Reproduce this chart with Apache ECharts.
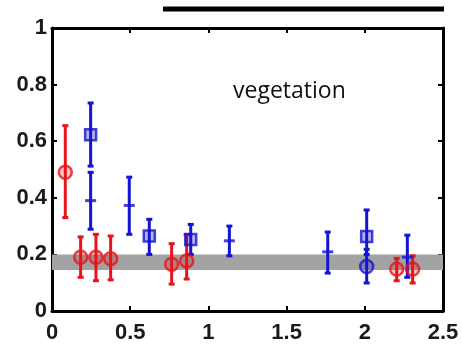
<!DOCTYPE html>
<html>
<head>
<meta charset="utf-8">
<script src="https://cdn.jsdelivr.net/npm/echarts@6/dist/echarts.min.js"></script>
<style>
  html, body { margin: 0; padding: 0; background: #fff; }
  #chart { width: 462px; height: 344px; }
</style>
</head>
<body>
<div id="chart"></div>
<script>
// values
const redX = [0.085, 0.183, 0.281, 0.375, 0.765, 0.861, 2.204, 2.306];
const redY = [0.49, 0.19, 0.19, 0.185, 0.165, 0.177, 0.148, 0.148];
const redLo = [0.33, 0.119, 0.107, 0.11, 0.095, 0.113, 0.107, 0.099];
const redHi = [0.655, 0.262, 0.271, 0.265, 0.238, 0.27, 0.186, 0.195];

const sqX = [0.247, 0.622, 0.887, 2.012];
const sqY = [0.623, 0.265, 0.253, 0.263];
const sqLo = [0.512, 0.2, 0.2, 0.2];
const sqHi = [0.735, 0.324, 0.306, 0.357];

const plusX = [0.247, 0.494, 1.134, 1.763, 2.272];
const plusY = [0.39, 0.373, 0.248, 0.209, 0.19];
const plusLo = [0.289, 0.271, 0.195, 0.134, 0.119];
const plusHi = [0.49, 0.473, 0.30, 0.279, 0.268];

const bcX = [2.012];
const bcY = [0.157];
const bcLo = [0.099];
const bcHi = [0.218];

const band = [0.145, 0.2];
const xTicks = [0, 0.5, 1, 1.5, 2, 2.5];
const yTicks = [0, 0.2, 0.4, 0.6, 0.8, 1];

const RED = '#e8141a';
const BLUE = '#1414d2';

const pts = (xs, ys) => xs.map((x, i) => [x, ys[i]]);
const bars = (xs, lo, hi) => xs.map((x, i) => [x, lo[i], hi[i]]);

function errorBars(name, data, color) {
  return {
    name: name,
    type: 'custom',
    data: data,
    z: 3,
    renderItem: (params, api) => {
      const top = api.coord([api.value(0), api.value(2)]);
      const bot = api.coord([api.value(0), api.value(1)]);
      const w = 3;
      const style = { stroke: color, lineWidth: 3 };
      return {
        type: 'group',
        children: [
          { type: 'line', shape: { x1: top[0], y1: top[1], x2: bot[0], y2: bot[1] }, style: style },
          { type: 'line', shape: { x1: top[0] - w, y1: top[1], x2: top[0] + w, y2: top[1] }, style: style },
          { type: 'line', shape: { x1: bot[0] - w, y1: bot[1], x2: bot[0] + w, y2: bot[1] }, style: style }
        ]
      };
    }
  };
}

const chart = echarts.init(document.getElementById('chart'));

const axisLine = { show: true, onZero: false, lineStyle: { color: '#000', width: 3 } };
const axisTick = { show: true, inside: true, length: 5, lineStyle: { color: '#000', width: 2 } };
const labelStyle = { color: '#1a1a1a', fontSize: 22, fontWeight: 'bold', fontFamily: 'Liberation Sans' };

chart.setOption({
  animation: false,
  grid: { left: 52, right: 19, top: 28, bottom: 32 },
  xAxis: [
    {
      type: 'value', min: 0, max: 2.5, interval: 0.5,
      axisLine: axisLine, axisTick: axisTick, splitLine: { show: false },
      axisLabel: Object.assign({ margin: 11, formatter: v => xTicks.includes(v) ? String(v) : '' }, labelStyle)
    },
    {
      type: 'value', position: 'top', min: 0, max: 2.5, interval: 0.5,
      axisLine: axisLine, axisTick: axisTick, splitLine: { show: false }, axisLabel: { show: false }
    }
  ],
  yAxis: [
    {
      type: 'value', min: 0, max: 1, interval: 0.2,
      axisLine: axisLine, axisTick: axisTick, splitLine: { show: false },
      axisLabel: Object.assign({ margin: 5, formatter: v => yTicks.some(t => Math.abs(t - v) < 1e-9) ? String(+v.toFixed(1)) : '' }, labelStyle)
    },
    {
      type: 'value', position: 'right', min: 0, max: 1, interval: 0.2,
      axisLine: axisLine, axisTick: axisTick, splitLine: { show: false }, axisLabel: { show: false }
    }
  ],
  graphic: [
    { type: 'line', shape: { x1: 163, y1: 9, x2: 444, y2: 9 }, style: { stroke: '#000', lineWidth: 5 } },
    {
      type: 'text', left: 233, top: 80,
      style: { text: 'vegetation', fontSize: 23, fontFamily: 'Open Sans', fill: '#111' }
    }
  ],
  series: [
    {
      name: 'band', type: 'line', data: [], silent: true,
      markArea: {
        silent: true,
        itemStyle: { color: '#a3a3a3' },
        data: [[{ yAxis: band[0] }, { yAxis: band[1] }]]
      }
    },
    errorBars('red err', bars(redX, redLo, redHi), RED),
    errorBars('square err', bars(sqX, sqLo, sqHi), BLUE),
    errorBars('plus err', bars(plusX, plusLo, plusHi), BLUE),
    errorBars('blue circle err', bars(bcX, bcLo, bcHi), BLUE),
    {
      name: 'red', type: 'scatter', data: pts(redX, redY), z: 4,
      symbol: 'circle', symbolSize: 13,
      itemStyle: { color: 'rgba(232,20,26,0.3)', borderColor: RED, borderWidth: 2.5 }
    },
    {
      name: 'square', type: 'scatter', data: pts(sqX, sqY), z: 4,
      symbol: 'rect', symbolSize: 11,
      itemStyle: { color: 'rgba(20,20,210,0.4)', borderColor: BLUE, borderWidth: 2.5 }
    },
    {
      name: 'plus', type: 'scatter', data: pts(plusX, plusY), z: 4,
      symbol: 'rect', symbolSize: [11, 3],
      itemStyle: { color: BLUE }
    },
    {
      name: 'blue circle', type: 'scatter', data: pts(bcX, bcY), z: 4,
      symbol: 'circle', symbolSize: 13,
      itemStyle: { color: 'rgba(20,20,210,0.3)', borderColor: BLUE, borderWidth: 2.5 }
    }
  ]
});
</script>
</body>
</html>
